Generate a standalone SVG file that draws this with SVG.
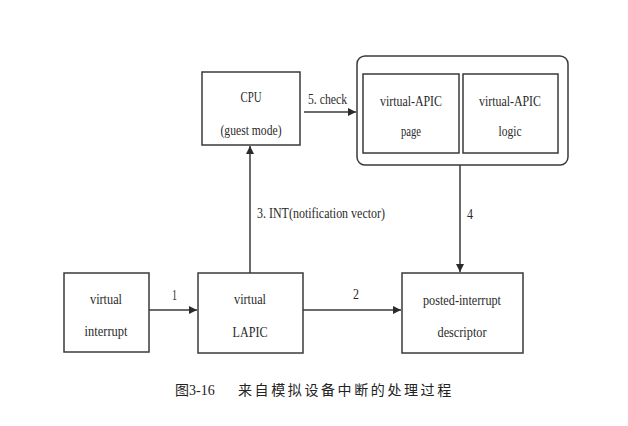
<svg xmlns="http://www.w3.org/2000/svg" width="628" height="426" viewBox="0 0 628 426">
<style>
.box{fill:none;stroke:#3a3a3a;stroke-width:1.5}
.t{font-family:"Liberation Serif","Times New Roman",serif;font-size:15px;fill:#2a2a2a;text-anchor:middle}
.l{font-family:"Liberation Serif","Times New Roman",serif;font-size:15px;fill:#2a2a2a}
.c{stroke:#3a3a3a;stroke-width:1.5;fill:none}
.cap{font-family:"Liberation Serif","Noto Sans CJK SC",serif;font-size:14px;fill:#222}
</style>
<defs>
<marker id="ah" viewBox="0 0 10 10" refX="10" refY="5" markerWidth="9" markerHeight="8" markerUnits="userSpaceOnUse" orient="auto">
<path d="M0,0 L10,5 L0,10 z" fill="#2a2a2a"/>
</marker>
</defs>
<rect width="628" height="426" fill="#fff"/>
<g id="cpu">
<rect class="box" x="202" y="72" width="98" height="73"/>
<text class="t" x="251" y="102" textLength="21" lengthAdjust="spacingAndGlyphs">CPU</text>
<text class="t" x="251" y="135" textLength="61" lengthAdjust="spacingAndGlyphs">(guest mode)</text>
</g>
<g id="apic-group">
<rect class="box" x="357" y="56" width="211" height="109" rx="8"/>
</g>
<g id="apic-page">
<rect class="box" x="363" y="74" width="96" height="79"/>
<text class="t" x="411" y="106" textLength="62" lengthAdjust="spacingAndGlyphs">virtual-APIC</text>
<text class="t" x="411" y="136" textLength="20" lengthAdjust="spacingAndGlyphs">page</text>
</g>
<g id="apic-logic">
<rect class="box" x="463" y="74" width="95" height="79"/>
<text class="t" x="510" y="106" textLength="62" lengthAdjust="spacingAndGlyphs">virtual-APIC</text>
<text class="t" x="510" y="136" textLength="23" lengthAdjust="spacingAndGlyphs">logic</text>
</g>
<g id="virtual-interrupt">
<rect class="box" x="64" y="273" width="85" height="79"/>
<text class="t" x="106" y="304" textLength="32" lengthAdjust="spacingAndGlyphs">virtual</text>
<text class="t" x="106" y="336" textLength="43" lengthAdjust="spacingAndGlyphs">interrupt</text>
</g>
<g id="virtual-lapic">
<rect class="box" x="198" y="273" width="105" height="80"/>
<text class="t" x="250" y="304" textLength="32" lengthAdjust="spacingAndGlyphs">virtual</text>
<text class="t" x="250" y="337" textLength="35" lengthAdjust="spacingAndGlyphs">LAPIC</text>
</g>
<g id="pi-descriptor">
<rect class="box" x="402" y="273" width="121" height="80"/>
<text class="t" x="462" y="305" textLength="78" lengthAdjust="spacingAndGlyphs">posted-interrupt</text>
<text class="t" x="462" y="337" textLength="49" lengthAdjust="spacingAndGlyphs">descriptor</text>
</g>
<g id="connectors">
<line class="c" x1="149" y1="310" x2="197" y2="310" marker-end="url(#ah)"/>
<line class="c" x1="303" y1="310" x2="401" y2="310" marker-end="url(#ah)"/>
<line class="c" x1="250" y1="273" x2="250" y2="146" marker-end="url(#ah)"/>
<line class="c" x1="304" y1="112" x2="356" y2="112" marker-end="url(#ah)"/>
<line class="c" x1="460" y1="165" x2="460" y2="272" marker-end="url(#ah)"/>
<text class="l" x="172" y="300" textLength="5" lengthAdjust="spacingAndGlyphs">1</text>
<text class="l" x="353" y="299" textLength="6" lengthAdjust="spacingAndGlyphs">2</text>
<text class="l" x="257" y="218" textLength="128" lengthAdjust="spacingAndGlyphs">3. INT(notification vector)</text>
<text class="l" x="467" y="219" textLength="6" lengthAdjust="spacingAndGlyphs">4</text>
<text class="l" x="308" y="104" textLength="39" lengthAdjust="spacingAndGlyphs">5. check</text>
</g>
<text class="cap" x="175" y="395">图3-16</text>
<text class="cap" x="238" y="395" letter-spacing="2.6">来自模拟设备中断的处理过程</text>
</svg>
